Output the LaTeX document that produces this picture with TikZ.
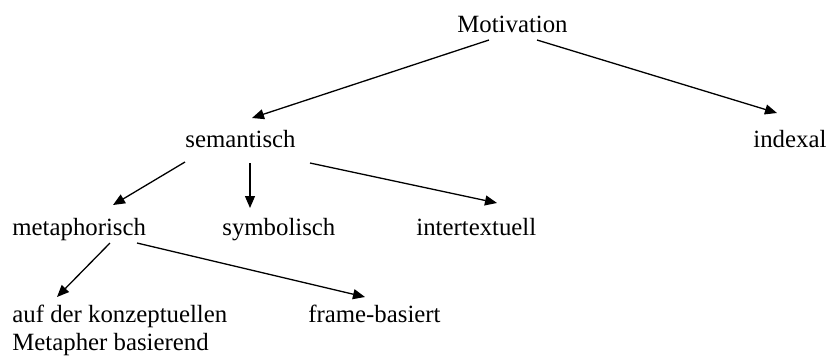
\documentclass[tikz,border=0pt]{standalone}
\usepackage{fontspec}
\setmainfont{Liberation Serif}
\usetikzlibrary{arrows.meta,calc,positioning}

\begin{document}
\begin{tikzpicture}[
  x=0.5pt,y=-0.5pt,
  font=\fontsize{12.4}{14}\selectfont,
  >={Triangle[length=6pt,width=5pt]},
  term/.style={inner sep=0pt,anchor=base west,align=left},
  link/.style={->,line width=0.65pt},
]
\useasboundingbox (0,0) rectangle (827,355);

%% =====================================================
%%  Levels
%% =====================================================
\node[term] (mot) at (457,32)  {Motivation};
\node[term] (sem) at (185,147) {semantisch};
\node[term] (idx) at (753,147) {indexal};
\node[term] (met) at (12,235)  {metaphorisch};
\node[term] (sym) at (222,235) {symbolisch};
\node[term] (int) at (416,235) {intertextuell};
% two lines: base is the lower line
\node[term] (auf) at (12,350)  {auf der konzeptuellen\\Metapher basierend};
\node[term] (frm) at (308,322) {frame-basiert};

%% =====================================================
%%  Arrows
%% =====================================================
\draw[link] ([shift={(32,8)}]mot.base west)  -- ([shift={(67,-29)}]sem.base west);
\draw[link] ([shift={(80,8)}]mot.base west)  -- ([shift={(24,-34)}]idx.base west);

\draw[link] ([shift={(0,15)}]sem.base west)   -- ([shift={(101,-30)}]met.base west);
\draw[link] ([shift={(65,16)}]sem.base west)  -- ([shift={(28,-27)}]sym.base west);
\draw[link] ([shift={(125,16)}]sem.base west) -- ([shift={(81,-32)}]int.base west);

\draw[link] ([shift={(98,8)}]met.base west)  -- ([shift={(45,-53)}]auf.base west);
\draw[link] ([shift={(125,8)}]met.base west) -- ([shift={(57,-25)}]frm.base west);

\end{tikzpicture}
\end{document}
